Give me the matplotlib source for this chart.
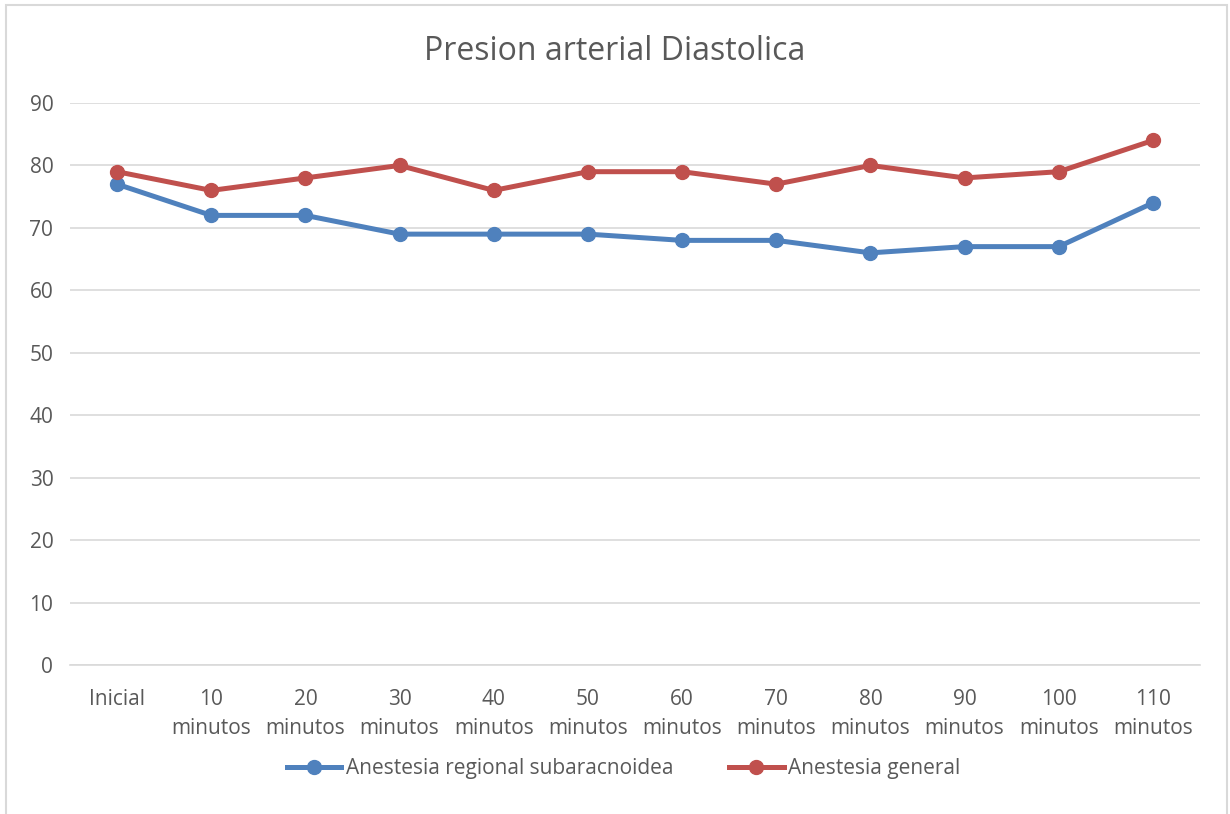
import matplotlib
matplotlib.use('Agg')
import matplotlib.pyplot as plt
from matplotlib.patches import Rectangle

plt.rcParams['font.family'] = ['Open Sans', 'DejaVu Sans']

categorias = ['Inicial', '10\nminutos', '20\nminutos', '30\nminutos', '40\nminutos', '50\nminutos',
              '60\nminutos', '70\nminutos', '80\nminutos', '90\nminutos', '100\nminutos', '110\nminutos']
regional = [77, 72, 72, 69, 69, 69, 68, 68, 66, 67, 67, 74]
general = [79, 76, 78, 80, 76, 79, 79, 77, 80, 78, 79, 84]

gris = '#595959'
fig = plt.figure(figsize=(12.3, 8.14), dpi=100)
ax = fig.add_axes([70/1230, (814-665)/814, 1130/1230, 562/814])

x = list(range(len(categorias)))
ax.plot(x, regional, color='#4F81BD', lw=3.6, marker='o', ms=10, label='Anestesia regional subaracnoidea')
ax.plot(x, general, color='#C0504D', lw=3.6, marker='o', ms=10, label='Anestesia general')

ax.set_ylim(0, 90)
ax.set_yticks(range(0, 91, 10))
ax.set_xlim(-0.5, len(categorias) - 0.5)
ax.set_xticks(x)
ax.set_xticklabels(categorias, va='top', linespacing=1.55)
ax.grid(axis='y', color='#D9D9D9', lw=1.2)
ax.set_axisbelow(True)
for s in ['top', 'right', 'left']:
    ax.spines[s].set_visible(False)
ax.spines['bottom'].set_color('#D9D9D9')
ax.spines['bottom'].set_linewidth(1.2)
ax.tick_params(axis='both', length=0, labelsize=15, colors=gris)
ax.tick_params(axis='y', pad=12)
ax.tick_params(axis='x', pad=17)

fig.suptitle('Presion arterial Diastolica', y=0.957, fontsize=23, color=gris)
fig.legend(loc='center', bbox_to_anchor=(0.507, 0.056), ncol=2, frameon=False,
           fontsize=15, labelcolor=gris, handlelength=2.6, handletextpad=0.2, columnspacing=2.7)

fig.patches.append(Rectangle((6/1230, -0.01), 1221/1230, 1.0 - 5/814 + 0.01, transform=fig.transFigure,
                             fill=False, edgecolor='#D9D9D9', lw=1.5))
fig.savefig('out.png', dpi=100)
